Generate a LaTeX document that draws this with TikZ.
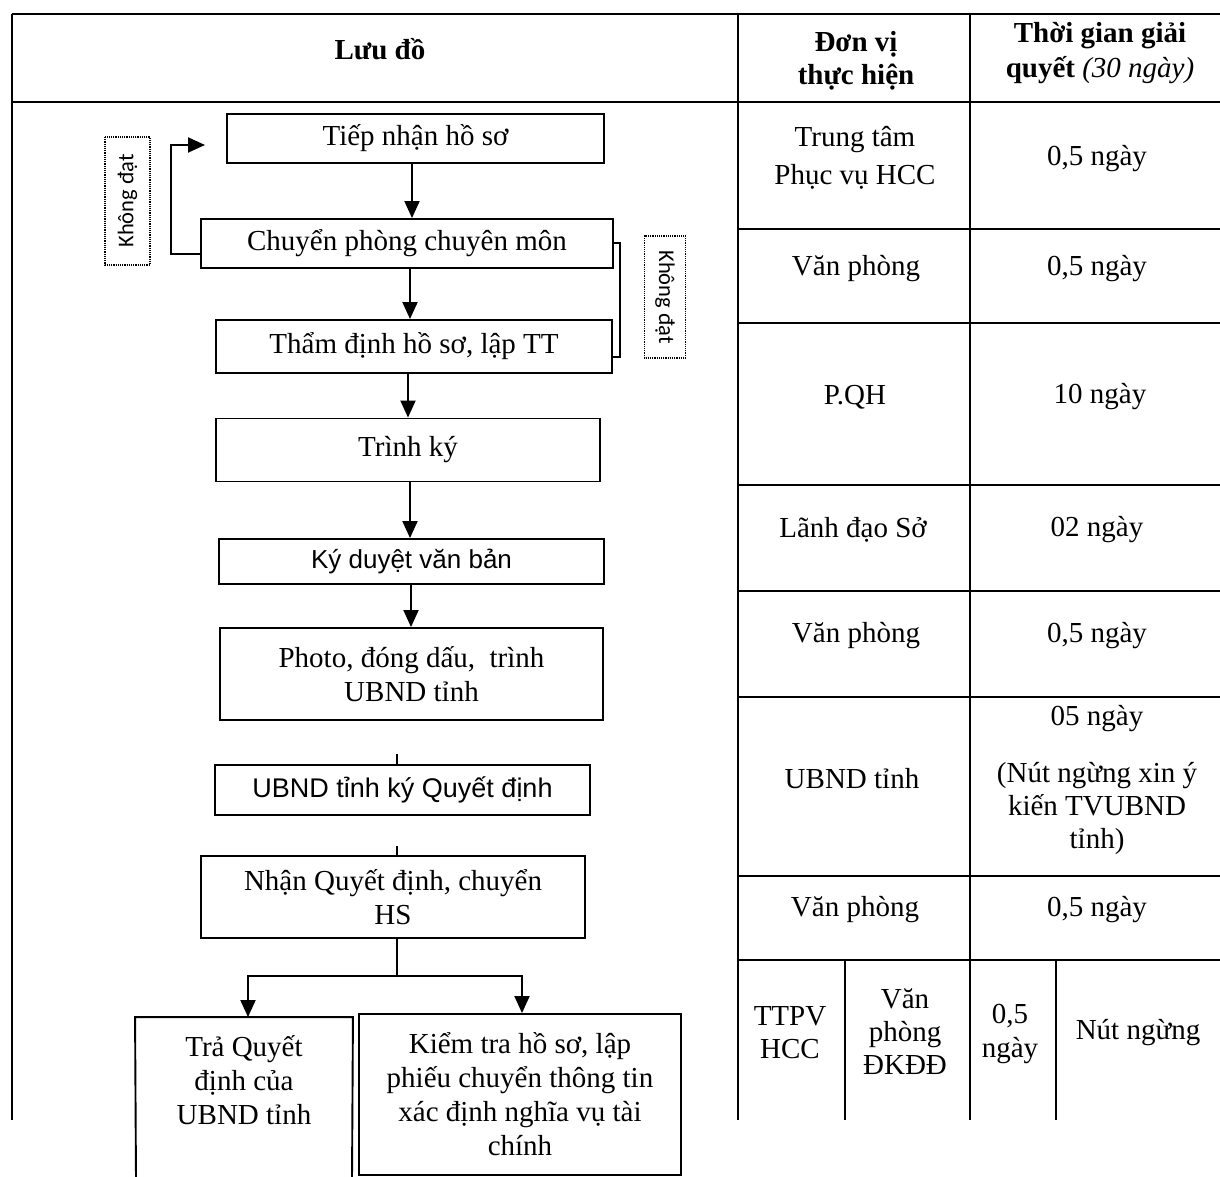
\documentclass[tikz,border=0pt]{standalone}
\usepackage{fontspec}
\setmainfont{Liberation Serif}
\newfontfamily\sansf{Liberation Sans}
\newfontfamily\calib{Carlito}
\usetikzlibrary{arrows.meta,calc}
\begin{document}
\begin{tikzpicture}[x=1pt,y=-1pt,
  tl/.style={line width=1.6pt},
  box/.style={draw, line width=1.9pt, rectangle, inner sep=0pt, align=center, font=\fontsize{29}{34}\selectfont},
  sbox/.style={box, font=\sansf\fontsize{26}{30}\selectfont},
  arr/.style={line width=1.9pt, -{Triangle[length=17pt,width=15pt]}},
  lnk/.style={line width=1.9pt},
  cell/.style={align=center, font=\fontsize{29}{34}\selectfont, inner sep=0pt},
  hdr/.style={align=center, font=\bfseries\fontsize{29}{33}\selectfont, inner sep=0pt},
  tag/.style={draw, densely dotted, line width=1.2pt, inner sep=0pt, font=\calib\fontsize{22.5}{25}\selectfont}
]
\useasboundingbox (0,0) rectangle (1220,1177);
\fill[white] (0,0) rectangle (1220,1177);

% ---- table frame ----
\draw[tl] (12,14) -- (1220,14);
\draw[tl] (12,102) -- (1220,102);
\draw[tl] (12,14) -- (12,1120);
\draw[tl] (738,14) -- (738,1120);
\draw[tl] (970,14) -- (970,1120);
\foreach \yy in {229,323,485,591,697,876,960}
  \draw[tl] (738,\yy) -- (1220,\yy);
\draw[tl] (845,960) -- (845,1120);
\draw[tl] (1056,960) -- (1056,1120);

% ---- header ----
\node[hdr] (h1) at (380,49) {Lưu đồ};
\node[hdr] (h2) at (856,61) {Đơn vị\\thực hiện};
\node[hdr, font=\bfseries\fontsize{29}{35}\selectfont] (h3) at (1100,53) {Thời gian giải\\quyết {\mdseries\itshape (30 ngày)}};

% ---- table cells ----
\node[cell] (u1) at (855,158) {Trung tâm\\[4pt]Phục vụ HCC};
\node[cell] (t1) at (1097,159) {0,5 ngày};
\node[cell] (u2) at (856,269) {Văn phòng};
\node[cell] (t2) at (1097,269) {0,5 ngày};
\node[cell] (u3) at (855,397) {P.QH};
\node[cell] (t3) at (1100,397) {10 ngày};
\node[cell] (u4) at (853,530) {Lãnh đạo Sở};
\node[cell] (t4) at (1097,530) {02 ngày};
\node[cell] (u5) at (856,636) {Văn phòng};
\node[cell] (t5) at (1097,636) {0,5 ngày};
\node[cell] (u6) at (852,779) {UBND tỉnh};
\node[cell] (t6a) at (1097,719) {05 ngày};
\node[cell, font=\fontsize{29}{33}\selectfont] (t6b) at (1097,808) {(Nút ngừng xin ý\\kiến TVUBND\\tỉnh)};
\node[cell] (u7) at (855,910) {Văn phòng};
\node[cell] (t7) at (1097,910) {0,5 ngày};
\node[cell, font=\fontsize{29}{33}\selectfont] (u8a) at (790,1033) {TTPV\\HCC};
\node[cell, font=\fontsize{29}{33}\selectfont] (u8b) at (905,1032) {Văn\\phòng\\ĐKĐĐ};
\node[cell, font=\fontsize{29}{34}\selectfont] (t8a) at (1010,1034) {0,5\\ngày};
\node[cell] (t8b) at (1138,1033) {Nút ngừng};

% ---- flowchart ----
\node[box, minimum width=377pt, minimum height=49pt] (tn) at (415.5,138.5) {Tiếp nhận hồ sơ};
\node[box, minimum width=412pt, minimum height=49pt] (cp) at (407,243.5) {Chuyển phòng chuyên môn};
\node[box, minimum width=396pt, minimum height=53pt] (td) at (414,346.5) {Thẩm định hồ sơ, lập TT};
\node[box, minimum width=384pt, minimum height=63pt] (tk) at (408,450) {Trình ký};
\node[sbox, minimum width=385pt, minimum height=45pt] (kd) at (411.5,561.5) {Ký duyệt văn bản};
\node[box, minimum width=383pt, minimum height=92pt] (ph) at (411.5,674) {Photo, đóng dấu,\ \ trình\\UBND tỉnh};
\node[sbox, font=\sansf\fontsize{27}{30}\selectfont, minimum width=375pt, minimum height=50pt] (ub) at (402.5,790) {UBND tỉnh ký Quyết định};
\node[box, minimum width=384pt, minimum height=82pt] (nq) at (393,897) {Nhận Quyết định, chuyển\\HS};
\node[box, draw=none, minimum width=216pt, minimum height=124pt] (tra) at (244,1080) {Trả Quyết\\định của\\UBND tỉnh};
\draw[lnk] (136,1180) -- (tra.north west) -- (tra.north east) -- (352,1180);
\node[box, minimum width=322pt, minimum height=161pt] (kt) at (520,1094.5) {Kiểm tra hồ sơ, lập\\phiếu chuyển thông tin\\xác định nghĩa vụ tài\\chính};

% ---- tags ----
\node[tag, rotate=90, minimum width=128pt, minimum height=45pt] (tagL) at (127.5,201) {Không đạt};
\node[tag, rotate=-90, minimum width=122pt, minimum height=41pt] (tagR) at (665,297) {Không đạt};

% ---- helper x positions ----
\coordinate (x412) at (412,0);
\coordinate (x410) at (410,0);
\coordinate (x408) at (408,0);
\coordinate (x411) at (411,0);
\coordinate (x397) at (397,0);
\coordinate (x522) at (522,0);
\coordinate (x248) at (248,0);

% ---- connectors ----
\draw[arr] (tn.south -| x412) -- (cp.north -| x412);
\draw[arr] (cp.south -| x410) -- (td.north -| x410);
\draw[arr] (td.south -| x408) -- (tk.north -| x408);
\draw[arr] (tk.south -| x410) -- (kd.north -| x410);
\draw[arr] (kd.south -| x411) -- (ph.north -| x411);
\draw[lnk] (ub.north -| x397) -- ++(0,-10);
\draw[lnk] (nq.north -| x397) -- ++(0,-9);

\coordinate (back) at (205,145);
\draw[arr] ($(cp.west)+(0,10.5)$) -- (171,254) -- (171,145) -- (back);
\draw[lnk] ($(cp.east)+(0,-0.5)$) -- (620,243) -- (620,357) -- ($(td.east)+(0,10.5)$);

\coordinate (br) at (397,976);
\draw[lnk] (nq.south -| x397) -- (br);
\draw[arr] (br) -| (tra.north -| x248);
\draw[arr] (br) -| (kt.north -| x522);
\end{tikzpicture}
\end{document}
